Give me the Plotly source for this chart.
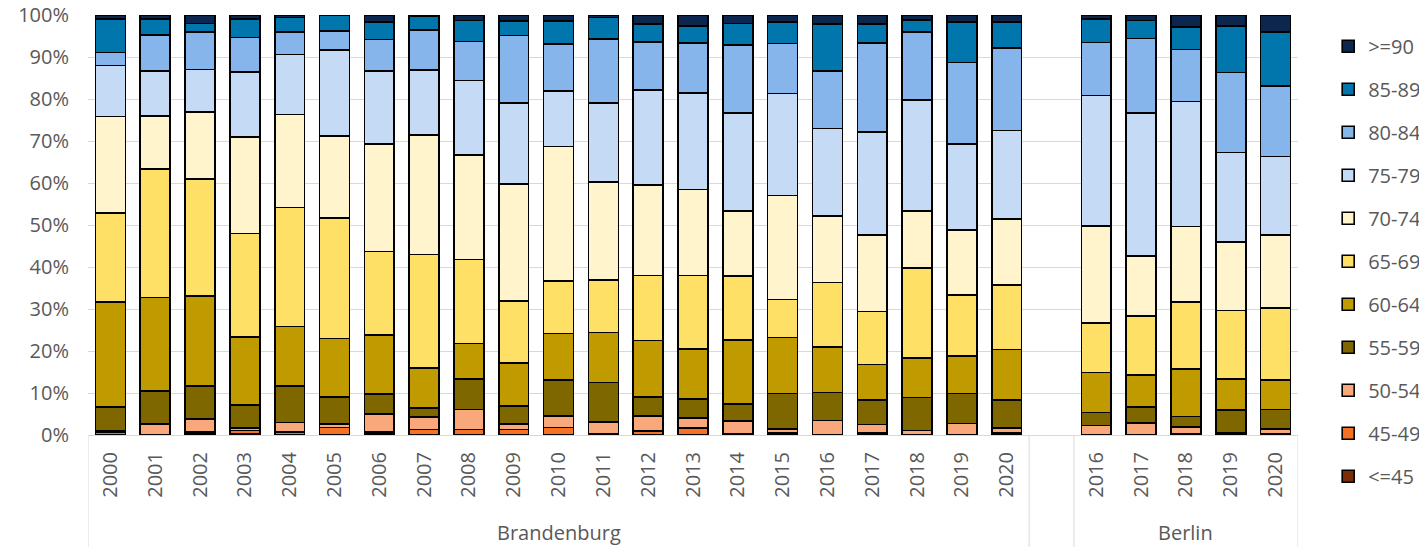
import plotly.graph_objects as go

# Category axis: Brandenburg 2000-2020, one empty slot, Berlin 2016-2020
years_brandenburg = ["2000", "2001", "2002", "2003", "2004", "2005", "2006",
                     "2007", "2008", "2009", "2010", "2011", "2012", "2013",
                     "2014", "2015", "2016", "2017", "2018", "2019", "2020"]
years_berlin = ["2016", "2017", "2018", "2019", "2020"]
regions = ["Brandenburg", "Berlin"]

# Share (%) of each age band per year; Brandenburg values first, then Berlin
le45 = [0.1, 0.0, 0.2, 0.3, 0.1, 0.0, 0.5, 0.0, 0.0, 0.0, 0.0, 0.2, 0.0, 0.0,
        0.2, 0.4, 0.0, 0.3, 0.0, 0.0, 0.3,
        0.0, 0.0, 0.3, 0.0, 0.2]
a45_49 = [0.6, 0.1, 0.5, 0.8, 0.6, 1.8, 0.2, 1.3, 1.3, 1.3, 1.8, 0.2, 0.9, 1.7,
          0.1, 0.2, 0.0, 0.2, 0.0, 0.0, 0.2,
          0.0, 0.0, 0.0, 0.0, 0.1]
a50_54 = [0.3, 2.5, 3.1, 0.6, 2.3, 0.8, 4.3, 3.0, 4.8, 1.3, 2.7, 2.7, 3.6, 2.3,
          3.0, 0.8, 3.5, 2.0, 1.1, 2.7, 1.2,
          2.3, 2.9, 1.6, 0.5, 1.2]
a55_59 = [5.6, 7.9, 7.9, 5.4, 8.7, 6.5, 4.8, 2.2, 7.2, 4.3, 8.6, 9.4, 4.6, 4.6,
          4.1, 8.5, 6.6, 5.8, 7.8, 7.2, 6.6,
          3.1, 3.7, 2.5, 5.5, 4.6]
a60_64 = [25.1, 22.2, 21.4, 16.3, 14.1, 13.9, 14.0, 9.4, 8.5, 10.3, 11.1, 11.9,
          13.4, 11.9, 15.2, 13.3, 10.9, 8.5, 9.5, 8.9, 12.1,
          9.5, 7.7, 11.3, 7.3, 7.0]
a65_69 = [21.1, 30.6, 27.9, 24.6, 28.4, 28.7, 19.9, 27.1, 20.0, 14.7, 12.5, 12.5,
          15.5, 17.5, 15.3, 9.1, 15.3, 12.6, 21.4, 14.5, 15.3,
          11.8, 14.0, 16.0, 16.3, 17.1]
a70_74 = [23.0, 12.7, 15.9, 22.9, 22.1, 19.5, 25.6, 28.4, 24.8, 27.8, 32.0, 23.4,
          21.5, 20.5, 15.5, 24.7, 15.8, 18.2, 13.6, 15.5, 15.7,
          23.1, 14.3, 17.9, 16.3, 17.4]
a75_79 = [12.2, 10.6, 10.1, 15.6, 14.3, 20.5, 17.4, 15.5, 17.8, 19.4, 13.2, 18.8,
          22.6, 23.0, 23.3, 24.3, 20.9, 24.6, 26.4, 20.5, 21.1,
          31.0, 34.0, 29.8, 21.4, 18.7]
a80_84 = [3.1, 8.7, 9.0, 8.1, 5.4, 4.5, 7.5, 9.5, 9.3, 16.0, 11.2, 15.2, 11.5,
          11.8, 16.2, 11.9, 13.7, 21.1, 16.1, 19.4, 19.7,
          12.7, 17.8, 12.4, 19.0, 16.8]
a85_89 = [7.9, 3.7, 2.0, 4.4, 3.4, 3.7, 4.1, 3.4, 5.0, 3.5, 5.5, 5.1, 4.2, 4.1,
          5.1, 5.1, 11.1, 4.6, 2.9, 9.6, 6.1,
          5.5, 4.3, 5.4, 11.1, 12.8]
ge90 = [1.0, 1.0, 2.0, 1.0, 0.6, 0.1, 1.7, 0.2, 1.3, 1.4, 1.4, 0.6, 2.2, 2.6,
        2.0, 1.7, 2.2, 2.1, 1.2, 1.7, 1.7,
        1.0, 1.3, 2.8, 2.6, 4.1]

age_bands = ["<=45", "45-49", "50-54", "55-59", "60-64", "65-69",
             "70-74", "75-79", "80-84", "85-89", ">=90"]
band_values = [le45, a45_49, a50_54, a55_59, a60_64, a65_69,
               a70_74, a75_79, a80_84, a85_89, ge90]
band_colors = ["#7B2E05", "#F57224", "#F8A87B", "#7F6700", "#C09B00", "#FFE066",
               "#FFF4CC", "#C5DAF5", "#86B5EB", "#0076AD", "#0C264E"]

n_bb = len(years_brandenburg)
positions = list(range(n_bb)) + [n_bb + 1 + i for i in range(len(years_berlin))]
tick_text = years_brandenburg + years_berlin
n_slots = n_bb + 1 + len(years_berlin)

TEXT = "#595959"
GRID = "#D9D9D9"
FONT = "Open Sans"

fig = go.Figure()
n_bands = len(age_bands)
for i, (name, vals, col) in enumerate(zip(age_bands, band_values, band_colors)):
    fig.add_trace(go.Bar(
        x=positions, y=vals, name=name, legendgroup=name,
        legendrank=n_bands - i,  # oldest band listed first
        marker=dict(color=col, line=dict(color="#000000", width=1.6)),
        hovertemplate="%{y:.1f}%<extra>" + name + "</extra>",
    ))

# Separators of the two-level category axis
sep_x = [-0.5, n_bb - 0.5, n_bb + 0.5, n_slots - 0.5]
for sx in sep_x:
    fig.add_shape(type="line", xref="x", yref="paper", x0=sx, x1=sx,
                  y0=0, y1=-0.27, line=dict(color=GRID, width=1))

# Region labels under the year labels
region_centers = [(n_bb - 1) / 2, n_bb + 1 + (len(years_berlin) - 1) / 2]
for label, cx in zip(regions, region_centers):
    fig.add_annotation(x=cx, xref="x", y=-0.231, yref="paper", text=label,
                       showarrow=False, yanchor="middle",
                       font=dict(family=FONT, size=20, color=TEXT))

fig.update_layout(
    width=1419, height=547,
    margin=dict(l=88, r=121, t=15, b=112, autoexpand=False),
    barmode="stack", barnorm="percent", bargap=1 / 3,
    plot_bgcolor="white", paper_bgcolor="white",
    font=dict(family=FONT, color=TEXT),
    showlegend=True,
    legend=dict(xref="container", yref="container",
                x=0.936, xanchor="left", y=0.951, yanchor="top",
                traceorder="grouped", tracegroupgap=14, maxheight=600,
                font=dict(family=FONT, size=20, color=TEXT),
                itemwidth=30, bgcolor="rgba(0,0,0,0)"),
)
fig.update_xaxes(range=[-0.5, n_slots - 0.5], tickmode="array",
                 tickvals=positions, ticktext=tick_text, tickangle=-90,
                 tickfont=dict(family=FONT, size=20, color=TEXT),
                 showgrid=False, zeroline=False, showline=True,
                 linecolor=GRID, linewidth=1, ticks="", ticklabelstandoff=8,
                 automargin=False)
fig.update_yaxes(range=[0, 100], dtick=10, ticksuffix="%",
                 tickfont=dict(family=FONT, size=20, color=TEXT),
                 showgrid=True, gridcolor=GRID, gridwidth=1,
                 zeroline=False, showline=False, ticks="", ticklabelstandoff=18,
                 automargin=False)

fig.write_html("out.html")
